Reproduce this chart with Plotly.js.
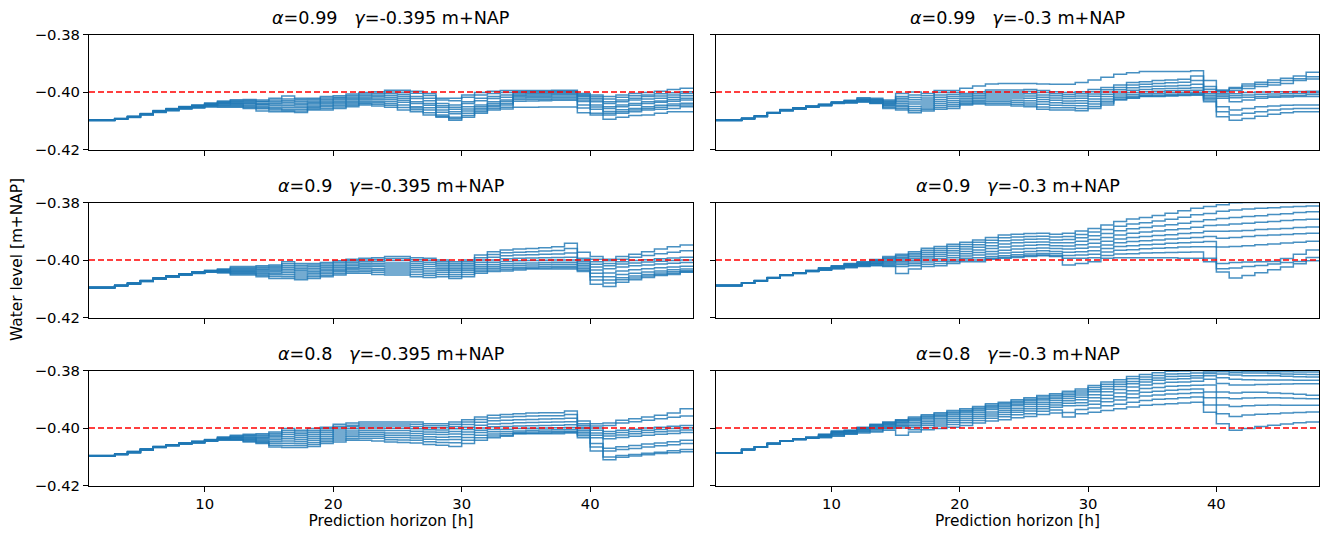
<!DOCTYPE html>
<html><head><meta charset="utf-8">
<script src="https://cdn.plot.ly/plotly-3.0.1.min.js"></script>
<style>html,body{margin:0;padding:0;background:#fff}#chart{width:1324px;height:536px}</style>
</head><body><div id="chart"></div>
<script>
// Prediction horizon (hours)
const hours=[1,2,3,4,5,6,7,8,9,10,11,12,13,14,15,16,17,18,19,20,21,22,23,24,25,26,27,28,29,30,31,32,33,34,35,36,37,38,39,40,41,42,43,44,45,46,47,48];
const referenceLevel=-0.40;
const yTicks=[-0.42,-0.40,-0.38];
const xTicks=[10,20,30,40];
const alphas=['0.99','0.99','0.9','0.9','0.8','0.8'];
const gammas=['-0.395','-0.3','-0.395','-0.3','-0.395','-0.3'];

// Water level [m+NAP] per hour (rows) for each ensemble member (columns)
const levels_a099_g0395=[
[-.4097,-.4097,-.4098,-.4098,-.4098,-.4098,-.4098,-.4099,-.4099,-.4099],
[-.4097,-.4097,-.4098,-.4098,-.4098,-.4098,-.4098,-.4099,-.4099,-.4099],
[-.4092,-.4092,-.4093,-.4093,-.4093,-.4093,-.4094,-.4094,-.4094,-.4095],
[-.4084,-.4085,-.4085,-.4086,-.4086,-.4086,-.4087,-.4087,-.4088,-.4089],
[-.4075,-.4076,-.4076,-.4077,-.4077,-.4077,-.4078,-.4078,-.4079,-.4080],
[-.4064,-.4065,-.4066,-.4066,-.4067,-.4067,-.4068,-.4069,-.4070,-.4071],
[-.4057,-.4058,-.4059,-.4060,-.4060,-.4061,-.4062,-.4063,-.4064,-.4065],
[-.4050,-.4051,-.4052,-.4053,-.4054,-.4055,-.4056,-.4057,-.4058,-.4059],
[-.4045,-.4046,-.4048,-.4049,-.4050,-.4051,-.4052,-.4053,-.4055,-.4056],
[-.4038,-.4040,-.4041,-.4043,-.4044,-.4045,-.4047,-.4048,-.4050,-.4052],
[-.4031,-.4034,-.4036,-.4038,-.4040,-.4042,-.4045,-.4047,-.4050,-.4053],
[-.4027,-.4030,-.4033,-.4036,-.4039,-.4041,-.4044,-.4047,-.4050,-.4053],
[-.4026,-.4029,-.4032,-.4036,-.4039,-.4042,-.4046,-.4050,-.4054,-.4057],
[-.4028,-.4032,-.4034,-.4039,-.4043,-.4045,-.4050,-.4055,-.4058,-.4066],
[-.4022,-.4028,-.4033,-.4038,-.4042,-.4047,-.4053,-.4058,-.4063,-.4069],
[-.4014,-.4024,-.4030,-.4036,-.4042,-.4048,-.4054,-.4060,-.4065,-.4069],
[-.4022,-.4027,-.4032,-.4038,-.4043,-.4049,-.4054,-.4060,-.4066,-.4071],
[-.4022,-.4026,-.4031,-.4036,-.4040,-.4045,-.4050,-.4055,-.4059,-.4063],
[-.4016,-.4021,-.4026,-.4031,-.4036,-.4041,-.4046,-.4051,-.4057,-.4063],
[-.4013,-.4018,-.4022,-.4027,-.4032,-.4037,-.4042,-.4047,-.4052,-.4057],
[-.4007,-.4012,-.4017,-.4022,-.4027,-.4032,-.4037,-.4042,-.4046,-.4051],
[-.4002,-.4007,-.4012,-.4017,-.4022,-.4027,-.4032,-.4037,-.4041,-.4045],
[-.3999,-.4004,-.4010,-.4015,-.4021,-.4026,-.4032,-.4037,-.4043,-.4049],
[-.3994,-.4000,-.4006,-.4013,-.4020,-.4026,-.4033,-.4040,-.4046,-.4053],
[-.3994,-.4001,-.4008,-.4015,-.4022,-.4029,-.4036,-.4045,-.4054,-.4063],
[-.3997,-.4004,-.4016,-.4023,-.4034,-.4040,-.4051,-.4056,-.4062,-.4069],
[-.4005,-.4012,-.4022,-.4030,-.4040,-.4046,-.4055,-.4063,-.4072,-.4080],
[-.4022,-.4028,-.4040,-.4048,-.4054,-.4063,-.4070,-.4080,-.4084,-.4088],
[-.4022,-.4030,-.4045,-.4053,-.4060,-.4069,-.4076,-.4088,-.4093,-.4098],
[-.4010,-.4018,-.4034,-.4040,-.4051,-.4059,-.4066,-.4074,-.4082,-.4088],
[-.4002,-.4010,-.4022,-.4030,-.4045,-.4051,-.4057,-.4063,-.4069,-.4074],
[-.3997,-.4005,-.4016,-.4023,-.4034,-.4040,-.4046,-.4051,-.4057,-.4063],
[-.3995,-.4002,-.4010,-.4018,-.4028,-.4033,-.4040,-.4045,-.4053,-.4059],
[-.3995,-.3999,-.4003,-.4007,-.4011,-.4016,-.4021,-.4026,-.4032,-.4053],
[-.3995,-.3998,-.4002,-.4006,-.4010,-.4015,-.4020,-.4025,-.4031,-.4053],
[-.3995,-.3998,-.4002,-.4006,-.4010,-.4015,-.4020,-.4025,-.4030,-.4052],
[-.3994,-.3997,-.4001,-.4005,-.4009,-.4014,-.4019,-.4024,-.4029,-.4052],
[-.3994,-.3997,-.4001,-.4005,-.4009,-.4014,-.4019,-.4024,-.4029,-.4052],
[-.4005,-.4009,-.4013,-.4016,-.4022,-.4028,-.4033,-.4045,-.4056,-.4072],
[-.4010,-.4016,-.4022,-.4028,-.4034,-.4045,-.4052,-.4060,-.4074,-.4080],
[-.4016,-.4024,-.4034,-.4040,-.4051,-.4057,-.4068,-.4074,-.4080,-.4095],
[-.4010,-.4018,-.4028,-.4034,-.4045,-.4051,-.4062,-.4069,-.4074,-.4088],
[-.4005,-.4013,-.4022,-.4028,-.4040,-.4046,-.4057,-.4063,-.4069,-.4082],
[-.4002,-.4010,-.4016,-.4024,-.4034,-.4040,-.4051,-.4057,-.4063,-.4080],
[-.3997,-.4006,-.4014,-.4022,-.4031,-.4036,-.4046,-.4053,-.4060,-.4074],
[-.3991,-.4003,-.4010,-.4018,-.4026,-.4032,-.4042,-.4048,-.4057,-.4069],
[-.3987,-.3999,-.4005,-.4013,-.4022,-.4028,-.4039,-.4045,-.4051,-.4069],
[-.3987,-.3999,-.4005,-.4013,-.4022,-.4028,-.4039,-.4045,-.4051,-.4069]];

const levels_a099_g03=[
[-.4097,-.4097,-.4098,-.4098,-.4098,-.4098,-.4098,-.4099,-.4099,-.4099],
[-.4097,-.4097,-.4098,-.4098,-.4098,-.4098,-.4098,-.4099,-.4099,-.4099],
[-.4091,-.4091,-.4092,-.4092,-.4092,-.4092,-.4093,-.4093,-.4093,-.4093],
[-.4083,-.4083,-.4084,-.4084,-.4084,-.4084,-.4085,-.4085,-.4085,-.4085],
[-.4071,-.4071,-.4072,-.4072,-.4072,-.4073,-.4073,-.4073,-.4074,-.4074],
[-.4061,-.4062,-.4062,-.4063,-.4063,-.4063,-.4064,-.4064,-.4065,-.4065],
[-.4055,-.4055,-.4056,-.4056,-.4057,-.4057,-.4058,-.4058,-.4059,-.4059],
[-.4049,-.4049,-.4050,-.4050,-.4051,-.4051,-.4052,-.4052,-.4053,-.4053],
[-.4043,-.4043,-.4044,-.4045,-.4045,-.4046,-.4046,-.4047,-.4047,-.4048],
[-.4035,-.4035,-.4036,-.4037,-.4037,-.4038,-.4038,-.4039,-.4039,-.4040],
[-.4029,-.4030,-.4031,-.4032,-.4033,-.4034,-.4035,-.4036,-.4037,-.4038],
[-.4020,-.4023,-.4025,-.4027,-.4028,-.4030,-.4031,-.4033,-.4034,-.4035],
[-.4022,-.4025,-.4027,-.4029,-.4031,-.4033,-.4035,-.4037,-.4039,-.4040],
[-.4028,-.4031,-.4034,-.4037,-.4040,-.4043,-.4046,-.4049,-.4053,-.4057],
[-.4005,-.4016,-.4022,-.4028,-.4034,-.4040,-.4046,-.4051,-.4057,-.4063],
[-.4000,-.4010,-.4019,-.4027,-.4035,-.4042,-.4050,-.4058,-.4065,-.4072],
[-.4005,-.4013,-.4021,-.4028,-.4035,-.4042,-.4049,-.4056,-.4061,-.4066],
[-.3995,-.4002,-.4010,-.4018,-.4026,-.4033,-.4040,-.4047,-.4054,-.4060],
[-.3995,-.4002,-.4009,-.4016,-.4023,-.4030,-.4037,-.4044,-.4050,-.4057],
[-.3987,-.4005,-.4010,-.4016,-.4022,-.4028,-.4033,-.4038,-.4042,-.4045],
[-.3979,-.3999,-.4005,-.4011,-.4017,-.4023,-.4029,-.4034,-.4038,-.4042],
[-.3972,-.3993,-.4000,-.4007,-.4014,-.4021,-.4028,-.4034,-.4040,-.4045],
[-.3970,-.3993,-.4000,-.4007,-.4014,-.4021,-.4028,-.4034,-.4040,-.4045],
[-.3970,-.3993,-.4000,-.4007,-.4014,-.4021,-.4029,-.4036,-.4043,-.4049],
[-.3970,-.3991,-.3998,-.4006,-.4014,-.4022,-.4030,-.4038,-.4045,-.4051],
[-.3972,-.3995,-.4002,-.4010,-.4018,-.4026,-.4034,-.4043,-.4052,-.4060],
[-.3973,-.3999,-.4006,-.4013,-.4021,-.4029,-.4037,-.4046,-.4055,-.4063],
[-.3973,-.4002,-.4009,-.4016,-.4023,-.4031,-.4039,-.4047,-.4055,-.4063],
[-.3967,-.3999,-.4006,-.4014,-.4022,-.4030,-.4039,-.4048,-.4057,-.4065],
[-.3958,-.3991,-.3999,-.4007,-.4015,-.4024,-.4033,-.4042,-.4050,-.4057],
[-.3949,-.3984,-.3992,-.4000,-.4008,-.4016,-.4024,-.4032,-.4038,-.4045],
[-.3938,-.3976,-.3984,-.3992,-.4000,-.4007,-.4014,-.4020,-.4025,-.4028],
[-.3933,-.3967,-.3976,-.3985,-.3994,-.4002,-.4009,-.4015,-.4020,-.4022],
[-.3929,-.3964,-.3973,-.3982,-.3991,-.3999,-.4006,-.4011,-.4015,-.4016],
[-.3929,-.3960,-.3970,-.3980,-.3989,-.3997,-.4004,-.4010,-.4014,-.4016],
[-.3929,-.3958,-.3968,-.3979,-.3988,-.3996,-.4003,-.4009,-.4012,-.4014],
[-.3929,-.3956,-.3966,-.3977,-.3987,-.3995,-.4002,-.4007,-.4010,-.4012],
[-.3926,-.3944,-.3960,-.3973,-.3985,-.3994,-.4001,-.4006,-.4009,-.4011],
[-.3960,-.3981,-.3990,-.3998,-.4005,-.4011,-.4017,-.4023,-.4028,-.4034],
[-.3993,-.3996,-.3999,-.4005,-.4010,-.4016,-.4022,-.4051,-.4069,-.4086],
[-.3984,-.3988,-.3995,-.4006,-.4013,-.4020,-.4034,-.4063,-.4080,-.4098],
[-.3972,-.3979,-.3988,-.4002,-.4010,-.4018,-.4028,-.4057,-.4074,-.4092],
[-.3966,-.3973,-.3981,-.4000,-.4008,-.4016,-.4022,-.4051,-.4069,-.4084],
[-.3958,-.3967,-.3976,-.3999,-.4007,-.4014,-.4018,-.4049,-.4063,-.4077],
[-.3952,-.3960,-.3970,-.3999,-.4006,-.4013,-.4017,-.4046,-.4059,-.4072],
[-.3944,-.3954,-.3960,-.3998,-.4005,-.4012,-.4016,-.4045,-.4057,-.4069],
[-.3931,-.3947,-.3955,-.3997,-.4003,-.4009,-.4016,-.4045,-.4057,-.4069],
[-.3931,-.3947,-.3955,-.3997,-.4003,-.4009,-.4016,-.4045,-.4057,-.4069]];

const levels_a09_g0395=[
[-.4095,-.4095,-.4096,-.4096,-.4096,-.4096,-.4096,-.4097,-.4097,-.4097],
[-.4095,-.4095,-.4096,-.4096,-.4096,-.4096,-.4096,-.4097,-.4097,-.4097],
[-.4088,-.4088,-.4089,-.4089,-.4089,-.4089,-.4090,-.4090,-.4090,-.4090],
[-.4080,-.4080,-.4081,-.4081,-.4082,-.4082,-.4083,-.4083,-.4084,-.4084],
[-.4071,-.4071,-.4072,-.4072,-.4073,-.4073,-.4074,-.4074,-.4075,-.4075],
[-.4062,-.4062,-.4063,-.4063,-.4064,-.4064,-.4065,-.4065,-.4066,-.4066],
[-.4055,-.4055,-.4056,-.4056,-.4057,-.4057,-.4058,-.4058,-.4059,-.4059],
[-.4048,-.4048,-.4049,-.4049,-.4050,-.4050,-.4051,-.4051,-.4052,-.4052],
[-.4041,-.4042,-.4042,-.4043,-.4044,-.4044,-.4045,-.4046,-.4046,-.4047],
[-.4036,-.4037,-.4037,-.4038,-.4039,-.4040,-.4040,-.4041,-.4042,-.4043],
[-.4031,-.4033,-.4035,-.4036,-.4038,-.4040,-.4041,-.4042,-.4043,-.4045],
[-.4023,-.4027,-.4030,-.4034,-.4037,-.4040,-.4043,-.4046,-.4049,-.4052],
[-.4023,-.4027,-.4030,-.4034,-.4037,-.4040,-.4043,-.4046,-.4049,-.4052],
[-.4020,-.4024,-.4028,-.4032,-.4036,-.4041,-.4045,-.4049,-.4053,-.4058],
[-.4017,-.4022,-.4027,-.4031,-.4036,-.4041,-.4046,-.4051,-.4057,-.4064],
[-.4006,-.4013,-.4020,-.4026,-.4032,-.4038,-.4044,-.4051,-.4058,-.4064],
[-.4012,-.4018,-.4024,-.4030,-.4036,-.4042,-.4049,-.4056,-.4063,-.4069],
[-.4012,-.4017,-.4023,-.4029,-.4035,-.4041,-.4046,-.4052,-.4058,-.4064],
[-.4009,-.4014,-.4020,-.4025,-.4031,-.4036,-.4042,-.4047,-.4053,-.4058],
[-.4003,-.4008,-.4014,-.4020,-.4025,-.4031,-.4036,-.4041,-.4047,-.4052],
[-.3997,-.4003,-.4008,-.4014,-.4019,-.4025,-.4030,-.4035,-.4041,-.4046],
[-.3994,-.4000,-.4006,-.4012,-.4017,-.4023,-.4029,-.4035,-.4040,-.4046],
[-.3992,-.3998,-.4004,-.4011,-.4017,-.4023,-.4030,-.4036,-.4043,-.4050],
[-.3988,-.3995,-.4002,-.4010,-.4017,-.4024,-.4031,-.4038,-.4045,-.4052],
[-.3988,-.3995,-.4002,-.4010,-.4017,-.4024,-.4031,-.4038,-.4045,-.4052],
[-.3992,-.3999,-.4006,-.4013,-.4020,-.4027,-.4034,-.4042,-.4050,-.4058],
[-.3994,-.4001,-.4008,-.4015,-.4023,-.4030,-.4038,-.4046,-.4053,-.4061],
[-.4000,-.4006,-.4012,-.4018,-.4024,-.4030,-.4036,-.4043,-.4050,-.4058],
[-.4006,-.4012,-.4018,-.4024,-.4030,-.4036,-.4043,-.4050,-.4057,-.4064],
[-.4000,-.4006,-.4012,-.4018,-.4024,-.4030,-.4036,-.4043,-.4050,-.4058],
[-.3983,-.3992,-.4000,-.4008,-.4016,-.4023,-.4029,-.4035,-.4040,-.4046],
[-.3971,-.3981,-.3990,-.4000,-.4008,-.4016,-.4023,-.4029,-.4035,-.4040],
[-.3965,-.3975,-.3985,-.3996,-.4005,-.4013,-.4020,-.4027,-.4033,-.4038],
[-.3962,-.3973,-.3983,-.3994,-.4003,-.4011,-.4018,-.4025,-.4030,-.4035],
[-.3960,-.3971,-.3982,-.3993,-.4002,-.4010,-.4017,-.4024,-.4029,-.4031],
[-.3957,-.3969,-.3980,-.3992,-.4001,-.4009,-.4016,-.4023,-.4028,-.4031],
[-.3954,-.3967,-.3979,-.3991,-.4000,-.4008,-.4015,-.4022,-.4027,-.4031],
[-.3942,-.3960,-.3976,-.3990,-.4000,-.4008,-.4015,-.4022,-.4027,-.4031],
[-.3973,-.3994,-.4000,-.4006,-.4012,-.4018,-.4024,-.4030,-.4036,-.4040],
[-.3988,-.3997,-.4006,-.4015,-.4024,-.4035,-.4046,-.4058,-.4070,-.4084],
[-.3997,-.4003,-.4012,-.4020,-.4030,-.4045,-.4058,-.4070,-.4080,-.4092],
[-.3988,-.3997,-.4006,-.4014,-.4024,-.4038,-.4050,-.4062,-.4069,-.4077],
[-.3980,-.3990,-.4002,-.4010,-.4020,-.4034,-.4046,-.4056,-.4063,-.4069],
[-.3971,-.3984,-.3999,-.4007,-.4017,-.4030,-.4042,-.4050,-.4056,-.4061],
[-.3962,-.3978,-.3996,-.4004,-.4014,-.4027,-.4038,-.4045,-.4050,-.4054],
[-.3954,-.3973,-.3993,-.4002,-.4011,-.4024,-.4034,-.4041,-.4046,-.4050],
[-.3948,-.3968,-.3990,-.4000,-.4009,-.4022,-.4031,-.4037,-.4041,-.4043],
[-.3948,-.3968,-.3990,-.4000,-.4009,-.4022,-.4031,-.4037,-.4041,-.4043]];

const levels_a09_g03=[
[-.4088,-.4088,-.4089,-.4089,-.4089,-.4089,-.4089,-.4090,-.4090,-.4090],
[-.4088,-.4088,-.4089,-.4089,-.4089,-.4089,-.4089,-.4090,-.4090,-.4090],
[-.4079,-.4079,-.4080,-.4080,-.4080,-.4080,-.4081,-.4081,-.4081,-.4081],
[-.4071,-.4071,-.4072,-.4072,-.4072,-.4072,-.4073,-.4073,-.4073,-.4073],
[-.4061,-.4061,-.4062,-.4062,-.4062,-.4062,-.4063,-.4063,-.4063,-.4063],
[-.4051,-.4051,-.4052,-.4052,-.4052,-.4053,-.4053,-.4053,-.4054,-.4054],
[-.4044,-.4044,-.4045,-.4045,-.4045,-.4046,-.4046,-.4046,-.4047,-.4047],
[-.4036,-.4037,-.4037,-.4038,-.4038,-.4038,-.4039,-.4039,-.4040,-.4040],
[-.4027,-.4028,-.4029,-.4030,-.4031,-.4032,-.4033,-.4034,-.4035,-.4036],
[-.4020,-.4021,-.4023,-.4024,-.4025,-.4026,-.4027,-.4028,-.4029,-.4031],
[-.4012,-.4014,-.4015,-.4017,-.4018,-.4020,-.4021,-.4023,-.4025,-.4027],
[-.4006,-.4008,-.4010,-.4012,-.4014,-.4016,-.4017,-.4019,-.4021,-.4023],
[-.3998,-.4001,-.4003,-.4006,-.4008,-.4011,-.4013,-.4015,-.4018,-.4020],
[-.3988,-.3992,-.3996,-.4000,-.4004,-.4008,-.4012,-.4016,-.4020,-.4023],
[-.3980,-.3985,-.3990,-.3995,-.4000,-.4005,-.4010,-.4016,-.4023,-.4047],
[-.3971,-.3977,-.3983,-.3989,-.3995,-.4001,-.4007,-.4013,-.4020,-.4031],
[-.3959,-.3966,-.3973,-.3980,-.3987,-.3993,-.4000,-.4007,-.4015,-.4023],
[-.3953,-.3960,-.3967,-.3974,-.3981,-.3988,-.3996,-.4004,-.4012,-.4020],
[-.3945,-.3952,-.3960,-.3968,-.3976,-.3984,-.3992,-.4000,-.4006,-.4012],
[-.3938,-.3946,-.3954,-.3962,-.3970,-.3978,-.3986,-.3994,-.4000,-.4006],
[-.3930,-.3938,-.3947,-.3956,-.3965,-.3974,-.3983,-.3992,-.4000,-.4006],
[-.3922,-.3931,-.3940,-.3950,-.3960,-.3970,-.3979,-.3988,-.3994,-.3997],
[-.3913,-.3923,-.3933,-.3944,-.3955,-.3966,-.3976,-.3985,-.3991,-.3994],
[-.3910,-.3920,-.3930,-.3940,-.3951,-.3962,-.3973,-.3982,-.3988,-.3991],
[-.3908,-.3918,-.3928,-.3938,-.3949,-.3960,-.3970,-.3979,-.3985,-.3988],
[-.3907,-.3917,-.3927,-.3937,-.3947,-.3958,-.3968,-.3977,-.3983,-.3985],
[-.3910,-.3920,-.3930,-.3940,-.3950,-.3960,-.3970,-.3978,-.3985,-.3988],
[-.3907,-.3918,-.3929,-.3940,-.3951,-.3962,-.3973,-.3984,-.3994,-.4017],
[-.3899,-.3911,-.3923,-.3935,-.3947,-.3959,-.3971,-.3983,-.3994,-.4012],
[-.3890,-.3903,-.3916,-.3929,-.3942,-.3955,-.3968,-.3980,-.3992,-.4006],
[-.3878,-.3894,-.3908,-.3922,-.3935,-.3948,-.3960,-.3972,-.3984,-.3994],
[-.3866,-.3883,-.3898,-.3913,-.3927,-.3940,-.3953,-.3966,-.3979,-.3992],
[-.3857,-.3875,-.3891,-.3907,-.3922,-.3936,-.3950,-.3964,-.3978,-.3992],
[-.3852,-.3870,-.3887,-.3903,-.3918,-.3933,-.3947,-.3961,-.3976,-.3992],
[-.3845,-.3864,-.3882,-.3899,-.3915,-.3930,-.3945,-.3959,-.3975,-.3992],
[-.3837,-.3858,-.3877,-.3895,-.3912,-.3927,-.3942,-.3957,-.3974,-.3992],
[-.3829,-.3851,-.3872,-.3891,-.3908,-.3924,-.3940,-.3955,-.3973,-.3994],
[-.3820,-.3843,-.3866,-.3886,-.3905,-.3922,-.3938,-.3954,-.3972,-.3994],
[-.3814,-.3838,-.3860,-.3880,-.3900,-.3918,-.3936,-.3954,-.3994,-.4006],
[-.3808,-.3830,-.3856,-.3878,-.3900,-.3924,-.3955,-.4012,-.4030,-.4042],
[-.3801,-.3826,-.3852,-.3875,-.3899,-.3922,-.3953,-.4009,-.4028,-.4063],
[-.3800,-.3823,-.3849,-.3872,-.3897,-.3918,-.3950,-.4007,-.4023,-.4054],
[-.3800,-.3820,-.3846,-.3869,-.3894,-.3915,-.3947,-.4006,-.4019,-.4044],
[-.3800,-.3818,-.3842,-.3866,-.3892,-.3913,-.3944,-.4005,-.4014,-.4034],
[-.3800,-.3816,-.3839,-.3863,-.3890,-.3911,-.3941,-.3995,-.4009,-.4024],
[-.3800,-.3814,-.3835,-.3860,-.3887,-.3909,-.3938,-.3980,-.4005,-.4013],
[-.3800,-.3812,-.3832,-.3858,-.3885,-.3907,-.3935,-.3965,-.3991,-.4003],
[-.3800,-.3812,-.3832,-.3858,-.3885,-.3907,-.3935,-.3965,-.3991,-.4003]];

const levels_a08_g0395=[
[-.4096,-.4096,-.4097,-.4097,-.4097,-.4097,-.4097,-.4098,-.4098,-.4098],
[-.4096,-.4096,-.4097,-.4097,-.4097,-.4097,-.4097,-.4098,-.4098,-.4098],
[-.4090,-.4090,-.4091,-.4091,-.4091,-.4091,-.4092,-.4092,-.4092,-.4092],
[-.4082,-.4082,-.4083,-.4083,-.4084,-.4084,-.4085,-.4085,-.4086,-.4086],
[-.4073,-.4073,-.4074,-.4074,-.4075,-.4075,-.4076,-.4076,-.4077,-.4077],
[-.4064,-.4064,-.4065,-.4065,-.4066,-.4066,-.4067,-.4067,-.4068,-.4068],
[-.4058,-.4058,-.4059,-.4059,-.4060,-.4060,-.4061,-.4061,-.4062,-.4062],
[-.4052,-.4052,-.4053,-.4053,-.4054,-.4054,-.4055,-.4055,-.4056,-.4056],
[-.4046,-.4047,-.4047,-.4048,-.4049,-.4049,-.4050,-.4051,-.4051,-.4052],
[-.4040,-.4041,-.4041,-.4042,-.4043,-.4043,-.4044,-.4045,-.4045,-.4046],
[-.4031,-.4033,-.4035,-.4036,-.4037,-.4038,-.4039,-.4040,-.4041,-.4043],
[-.4025,-.4028,-.4030,-.4032,-.4034,-.4036,-.4038,-.4040,-.4041,-.4043],
[-.4022,-.4025,-.4028,-.4031,-.4034,-.4037,-.4040,-.4043,-.4046,-.4049],
[-.4020,-.4024,-.4028,-.4032,-.4036,-.4040,-.4044,-.4048,-.4051,-.4054],
[-.4014,-.4019,-.4024,-.4029,-.4035,-.4041,-.4047,-.4053,-.4060,-.4066],
[-.4002,-.4009,-.4016,-.4023,-.4030,-.4037,-.4045,-.4053,-.4061,-.4068],
[-.4008,-.4014,-.4020,-.4026,-.4033,-.4040,-.4047,-.4054,-.4061,-.4068],
[-.4002,-.4009,-.4015,-.4022,-.4029,-.4036,-.4043,-.4050,-.4057,-.4064],
[-.3997,-.4003,-.4009,-.4015,-.4022,-.4029,-.4036,-.4042,-.4048,-.4054],
[-.3987,-.3994,-.4000,-.4007,-.4014,-.4021,-.4028,-.4035,-.4042,-.4049],
[-.3983,-.3990,-.3996,-.4003,-.4010,-.4017,-.4024,-.4030,-.4037,-.4043],
[-.3979,-.3986,-.3993,-.4000,-.4008,-.4015,-.4022,-.4029,-.4036,-.4043],
[-.3979,-.3986,-.3993,-.4000,-.4008,-.4015,-.4022,-.4029,-.4036,-.4045],
[-.3979,-.3986,-.3993,-.4001,-.4009,-.4017,-.4025,-.4033,-.4041,-.4049],
[-.3979,-.3986,-.3993,-.4001,-.4009,-.4017,-.4025,-.4033,-.4042,-.4050],
[-.3979,-.3987,-.3995,-.4003,-.4011,-.4019,-.4027,-.4035,-.4043,-.4052],
[-.3985,-.3992,-.3999,-.4006,-.4014,-.4022,-.4030,-.4039,-.4048,-.4057],
[-.3985,-.3992,-.3999,-.4007,-.4015,-.4023,-.4032,-.4041,-.4050,-.4060],
[-.3979,-.3987,-.3995,-.4003,-.4012,-.4021,-.4030,-.4040,-.4051,-.4064],
[-.3971,-.3979,-.3988,-.3997,-.4005,-.4014,-.4023,-.4033,-.4043,-.4054],
[-.3962,-.3970,-.3980,-.3990,-.4000,-.4008,-.4016,-.4025,-.4034,-.4043],
[-.3956,-.3965,-.3975,-.3986,-.3996,-.4005,-.4013,-.4021,-.4028,-.4034],
[-.3953,-.3962,-.3973,-.3984,-.3995,-.4004,-.4012,-.4019,-.4025,-.4029],
[-.3950,-.3960,-.3971,-.3982,-.3993,-.4002,-.4010,-.4016,-.4019,-.4020],
[-.3948,-.3958,-.3970,-.3981,-.3992,-.4001,-.4008,-.4014,-.4018,-.4020],
[-.3947,-.3957,-.3969,-.3980,-.3991,-.4000,-.4007,-.4013,-.4017,-.4020],
[-.3947,-.3957,-.3968,-.3979,-.3990,-.3999,-.4006,-.4012,-.4016,-.4020],
[-.3941,-.3953,-.3966,-.3978,-.3989,-.3998,-.4005,-.4011,-.4015,-.4017],
[-.3976,-.3985,-.3991,-.3997,-.4003,-.4009,-.4015,-.4021,-.4027,-.4034],
[-.3985,-.3993,-.4000,-.4008,-.4017,-.4025,-.4034,-.4054,-.4066,-.4080],
[-.3983,-.3991,-.4012,-.4020,-.4028,-.4037,-.4070,-.4080,-.4101,-.4110],
[-.3973,-.3983,-.4008,-.4016,-.4024,-.4033,-.4065,-.4075,-.4096,-.4102],
[-.3968,-.3978,-.4004,-.4012,-.4020,-.4029,-.4061,-.4071,-.4092,-.4097],
[-.3962,-.3973,-.4000,-.4008,-.4016,-.4025,-.4056,-.4066,-.4088,-.4093],
[-.3956,-.3968,-.3997,-.4005,-.4013,-.4022,-.4052,-.4062,-.4084,-.4089],
[-.3948,-.3963,-.3994,-.4002,-.4010,-.4019,-.4048,-.4058,-.4079,-.4086],
[-.3933,-.3958,-.3991,-.3999,-.4007,-.4016,-.4043,-.4054,-.4075,-.4083],
[-.3933,-.3958,-.3991,-.3999,-.4007,-.4016,-.4043,-.4054,-.4075,-.4083]];

const levels_a08_g03=[
[-.4086,-.4086,-.4087,-.4087,-.4087,-.4087,-.4087,-.4088,-.4088,-.4088],
[-.4086,-.4086,-.4087,-.4087,-.4087,-.4087,-.4087,-.4088,-.4088,-.4088],
[-.4074,-.4074,-.4075,-.4075,-.4075,-.4075,-.4076,-.4076,-.4076,-.4076],
[-.4065,-.4065,-.4066,-.4066,-.4066,-.4066,-.4067,-.4067,-.4067,-.4067],
[-.4053,-.4053,-.4054,-.4054,-.4054,-.4054,-.4055,-.4055,-.4055,-.4055],
[-.4044,-.4044,-.4045,-.4045,-.4045,-.4045,-.4046,-.4046,-.4046,-.4046],
[-.4038,-.4038,-.4039,-.4039,-.4039,-.4039,-.4040,-.4040,-.4040,-.4040],
[-.4032,-.4032,-.4033,-.4033,-.4034,-.4034,-.4034,-.4035,-.4035,-.4035],
[-.4022,-.4023,-.4024,-.4025,-.4026,-.4028,-.4029,-.4030,-.4032,-.4034],
[-.4010,-.4012,-.4013,-.4015,-.4016,-.4019,-.4021,-.4023,-.4026,-.4029],
[-.4008,-.4009,-.4010,-.4011,-.4013,-.4014,-.4016,-.4018,-.4020,-.4022],
[-.3997,-.3999,-.4000,-.4002,-.4004,-.4006,-.4009,-.4011,-.4014,-.4017],
[-.3987,-.3989,-.3991,-.3993,-.3996,-.3999,-.4003,-.4006,-.4010,-.4014],
[-.3979,-.3981,-.3984,-.3986,-.3989,-.3992,-.3996,-.3999,-.4003,-.4008],
[-.3971,-.3973,-.3976,-.3979,-.3982,-.3986,-.3990,-.3994,-.4000,-.4025],
[-.3962,-.3966,-.3970,-.3974,-.3980,-.3986,-.3992,-.3998,-.4006,-.4014],
[-.3954,-.3958,-.3962,-.3966,-.3972,-.3978,-.3984,-.3990,-.3998,-.4006],
[-.3947,-.3951,-.3956,-.3960,-.3966,-.3972,-.3979,-.3986,-.3993,-.4002],
[-.3939,-.3944,-.3948,-.3953,-.3959,-.3966,-.3973,-.3980,-.3988,-.3997],
[-.3933,-.3938,-.3942,-.3947,-.3953,-.3960,-.3967,-.3974,-.3982,-.3991],
[-.3925,-.3930,-.3934,-.3939,-.3945,-.3952,-.3959,-.3966,-.3974,-.3983],
[-.3916,-.3921,-.3926,-.3930,-.3936,-.3944,-.3951,-.3958,-.3966,-.3976],
[-.3910,-.3915,-.3920,-.3925,-.3931,-.3938,-.3945,-.3953,-.3961,-.3971],
[-.3902,-.3907,-.3912,-.3917,-.3923,-.3931,-.3938,-.3945,-.3954,-.3964],
[-.3895,-.3900,-.3905,-.3911,-.3917,-.3925,-.3933,-.3941,-.3950,-.3960],
[-.3887,-.3892,-.3898,-.3903,-.3910,-.3917,-.3925,-.3933,-.3942,-.3953],
[-.3881,-.3886,-.3892,-.3897,-.3904,-.3912,-.3920,-.3928,-.3937,-.3948],
[-.3872,-.3878,-.3884,-.3890,-.3897,-.3905,-.3914,-.3923,-.3946,-.3962],
[-.3864,-.3871,-.3878,-.3885,-.3893,-.3902,-.3912,-.3922,-.3936,-.3950],
[-.3852,-.3859,-.3867,-.3874,-.3884,-.3895,-.3906,-.3917,-.3930,-.3945],
[-.3840,-.3848,-.3856,-.3864,-.3874,-.3886,-.3897,-.3909,-.3923,-.3939],
[-.3832,-.3840,-.3848,-.3856,-.3866,-.3878,-.3891,-.3903,-.3917,-.3933],
[-.3821,-.3829,-.3838,-.3846,-.3857,-.3870,-.3882,-.3895,-.3910,-.3927],
[-.3814,-.3823,-.3831,-.3840,-.3850,-.3863,-.3876,-.3889,-.3904,-.3921],
[-.3808,-.3817,-.3826,-.3834,-.3845,-.3859,-.3872,-.3885,-.3900,-.3918],
[-.3803,-.3812,-.3821,-.3830,-.3841,-.3855,-.3869,-.3882,-.3898,-.3916],
[-.3802,-.3811,-.3820,-.3829,-.3840,-.3853,-.3866,-.3880,-.3895,-.3913],
[-.3800,-.3809,-.3818,-.3826,-.3837,-.3851,-.3864,-.3877,-.3892,-.3910],
[-.3800,-.3805,-.3810,-.3818,-.3830,-.3850,-.3875,-.3895,-.3920,-.3945],
[-.3800,-.3804,-.3812,-.3825,-.3845,-.3875,-.3895,-.3920,-.3950,-.3985],
[-.3802,-.3808,-.3816,-.3830,-.3850,-.3878,-.3898,-.3925,-.3960,-.4008],
[-.3803,-.3809,-.3818,-.3832,-.3850,-.3876,-.3896,-.3923,-.3955,-.4002],
[-.3803,-.3809,-.3818,-.3833,-.3849,-.3876,-.3895,-.3921,-.3952,-.3995],
[-.3804,-.3810,-.3818,-.3833,-.3848,-.3878,-.3895,-.3920,-.3950,-.3990],
[-.3804,-.3812,-.3820,-.3833,-.3847,-.3880,-.3896,-.3921,-.3948,-.3986],
[-.3805,-.3813,-.3822,-.3834,-.3846,-.3883,-.3897,-.3921,-.3946,-.3982],
[-.3805,-.3814,-.3823,-.3834,-.3846,-.3886,-.3898,-.3921,-.3944,-.3979],
[-.3805,-.3814,-.3823,-.3834,-.3846,-.3886,-.3898,-.3921,-.3944,-.3979]];

const panels=[levels_a099_g0395,levels_a099_g03,levels_a09_g0395,levels_a09_g03,levels_a08_g0395,levels_a08_g03];

// ---- layout geometry (pixels) ----
const W=1324,H=536;
const colPx=[[89,693],[716,1319]];
const rowPx=[[34.5,149.5],[202.5,317.5],[370.5,485.5]];
const titleCenterPx=[18,186,354];
const FONT='DejaVu Sans, Liberation Sans, sans-serif';
const TICK_SIZE=14.8, LABEL_SIZE=15.4, TITLE_SIZE=17.6;

function members(rows){
  const n=rows[0].length, out=[];
  for(let k=0;k<n;k++) out.push(rows.map(r=>r[k]));
  return out;
}

const traces=[];
const layout={
  width:W,height:H,margin:{l:0,r:0,t:0,b:0},
  paper_bgcolor:'#fff',plot_bgcolor:'#fff',
  font:{family:FONT,color:'#000',size:TICK_SIZE},
  showlegend:false,annotations:[]
};

panels.forEach((rows,p)=>{
  const row=Math.floor(p/2), col=p%2, s=(p===0?'':String(p+1));
  const xd=[colPx[col][0]/W,colPx[col][1]/W];
  const yd=[1-rowPx[row][1]/H,1-rowPx[row][0]/H];
  layout['xaxis'+s]={domain:xd,anchor:'y'+s,range:[hours[0],hours[hours.length-1]],
    tickmode:'array',tickvals:xTicks,showticklabels:row===2,ticks:'outside',ticklen:5,tickwidth:1,tickcolor:'#000',
    showline:true,mirror:true,linecolor:'#000',linewidth:1,showgrid:false,zeroline:false,
    tickfont:{family:FONT,size:TICK_SIZE,color:'#000'},
    title:row===2?{text:'Prediction horizon [h]',font:{family:FONT,size:LABEL_SIZE,color:'#000'},standoff:3}:{text:''}};
  layout['yaxis'+s]={domain:yd,anchor:'x'+s,range:[yTicks[0],yTicks[2]],
    tickmode:'array',tickvals:yTicks,tickformat:'.2f',showticklabels:col===0,ticks:'outside',ticklen:5,tickwidth:1,tickcolor:'#000',
    showline:true,mirror:true,linecolor:'#000',linewidth:1,showgrid:false,zeroline:false,
    tickfont:{family:FONT,size:TICK_SIZE,color:'#000'}};
  members(rows).forEach(m=>{
    traces.push({x:hours.slice(0,m.length),y:m,type:'scatter',mode:'lines',
      line:{shape:'hv',color:'#1f77b4',width:1.5},opacity:0.82,
      xaxis:'x'+s,yaxis:'y'+s,hoverinfo:'skip'});
  });
  traces.push({x:[hours[0],hours[hours.length-1]],y:[referenceLevel,referenceLevel],type:'scatter',mode:'lines',
    line:{color:'#ff0000',width:1.5,dash:'6px,3px'},xaxis:'x'+s,yaxis:'y'+s,hoverinfo:'skip'});
  const sp='\u00a0\u00a0\u00a0';
  layout.annotations.push({xref:'paper',yref:'paper',x:(xd[0]+xd[1])/2,y:1-titleCenterPx[row]/H,
    xanchor:'center',yanchor:'middle',showarrow:false,
    text:'<i>α</i>='+alphas[p]+sp+'<i>γ</i>='+gammas[p]+' m+NAP',
    font:{family:FONT,size:TITLE_SIZE,color:'#000'}});
});

layout.annotations.push({xref:'paper',yref:'paper',x:17/W,y:1-260/H,xanchor:'center',yanchor:'middle',
  showarrow:false,textangle:-90,text:'Water level [m+NAP]',font:{family:FONT,size:LABEL_SIZE,color:'#000'}});

Plotly.newPlot('chart',traces,layout,{displayModeBar:false,staticPlot:true});
</script>
</body></html>
